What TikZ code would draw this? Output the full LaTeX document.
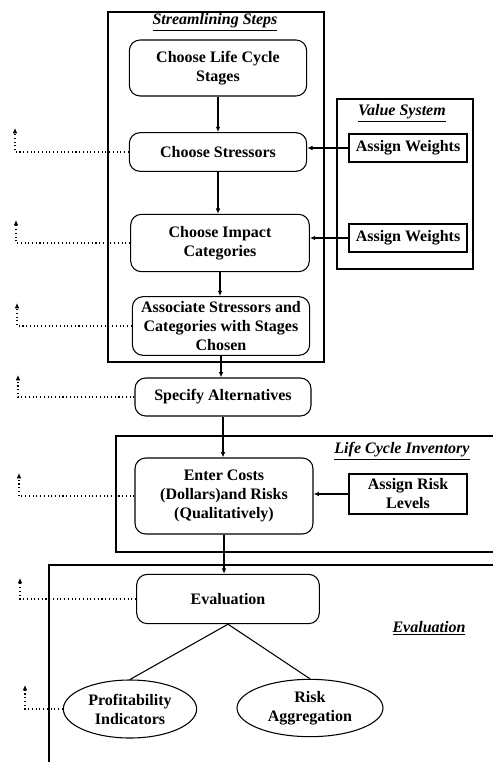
\documentclass[tikz,border=0pt]{standalone}
\usepackage{fontspec}
\setmainfont{Liberation Serif}
\usetikzlibrary{arrows.meta,shapes.geometric}

\begin{document}
\begin{tikzpicture}[x=0.75pt,y=-0.75pt,line width=0.8pt,
  every node/.style={font=\bfseries\fontsize{12}{14.25}\selectfont},
  stepbox/.style={draw, rounded corners=8pt, align=center, inner sep=0pt},
  weightbox/.style={draw, align=center, inner sep=0pt, minimum width=88.5pt},
  stepoval/.style={draw, ellipse, align=center, inner sep=0pt},
  flow/.style={-{Latex[length=4pt,width=3.5pt]}},
  back/.style={dotted, -{Latex[length=4pt,width=3.5pt]}},
  boxtitle/.style={font=\bfseries\itshape\fontsize{12}{14}\selectfont}]

\useasboundingbox (0,0) rectangle (493,762);

\coordinate (fb1) at (15,128);
\coordinate (fb2) at (16,220);
\coordinate (fb3) at (17,303);
\coordinate (fb4) at (18,375);
\coordinate (fb5) at (19,473);
\coordinate (fb6) at (20,578);
\coordinate (fb7) at (25,685);

\draw (108,12) rectangle (324,362);
\node [boxtitle] at (215,22) {\underline{Streamlining Steps}};
\draw (337,99) rectangle (473,269);
\node [boxtitle] at (402,113) {\underline{Value System}};
\draw (493,436) -- (116,436) -- (116,552) -- (493,552);
\node [boxtitle] at (402,451) {\underline{Life Cycle Inventory}};
\draw (49,762) -- (49,565) -- (493,565);
\node [boxtitle] at (429,628) {\underline{Evaluation}};

\node [stepbox, minimum width=133pt, minimum height=42pt] (stages) at (218,68) {Choose Life Cycle\\Stages};
\node [stepbox, minimum width=133pt, minimum height=29pt] (stressors) at (218,152) {Choose Stressors};
\node [stepbox, minimum width=134pt, minimum height=43pt] (impact) at (220,243) {Choose Impact\\Categories};
\node [stepbox, minimum width=133pt, minimum height=44pt] (assoc) at (221,326) {Associate Stressors and\\Categories with Stages\\Chosen};
\node [stepbox, minimum width=132pt, minimum height=28.5pt] (alter) at (223,397) {Specify Alternatives};
\node [stepbox, minimum width=133.5pt, minimum height=57pt] (costs) at (224,496) {Enter Costs\\(Dollars)and Risks\\(Qualitatively)};
\node [stepbox, minimum width=137pt, minimum height=37pt] (eval) at (228,599) {Evaluation};
\node [stepoval, minimum width=100pt, minimum height=43.5pt] (profit) at (130,709) {Profitability\\Indicators};
\node [stepoval, minimum width=109.5pt, minimum height=43pt] (risk) at (310,708) {Risk\\Aggregation};

\node [weightbox, minimum height=21pt] (weight1) at (408,148) {Assign Weights};
\node [weightbox, minimum height=21pt] (weight2) at (408,238) {Assign Weights};
\node [weightbox, minimum height=30pt] (levels) at (408,494) {Assign Risk\\Levels};

\draw [flow] (stages.south) -- (stages.south |- stressors.north);
\draw [flow] (stressors.south) -- (stressors.south |- impact.north);
\draw [flow] (impact.south) -- (impact.south |- assoc.north);
\draw [flow] (assoc.south) -- (assoc.south |- alter.north);
\draw [flow] (alter.south) -- (alter.south |- costs.north);
\draw [flow] (costs.south) -- (costs.south |- eval.north);
\draw (eval.south) -- (profit.north);
\draw (eval.south) -- (risk.north);

\draw [flow] (weight1.west) -- (weight1.west -| stressors.east);
\draw [flow] (weight2.west) -- (weight2.west -| impact.east);
\draw [flow] (levels.west) -- (levels.west -| costs.east);

\draw [back] (stressors.west) -| (fb1);
\draw [back] (impact.west) -| (fb2);
\draw [back] (assoc.west) -| (fb3);
\draw [back] (alter.west) -| (fb4);
\draw [back] (costs.west) -| (fb5);
\draw [back] (eval.west) -| (fb6);
\draw [back] (profit.west) -| (fb7);
\end{tikzpicture}
\end{document}
